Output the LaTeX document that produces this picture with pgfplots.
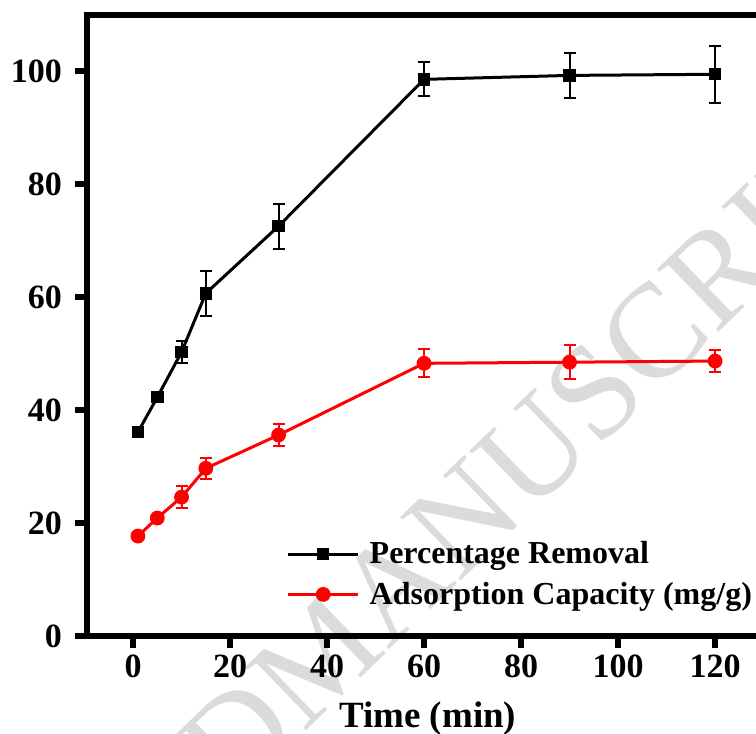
\documentclass[border=0pt]{standalone}
\usepackage{pgfplots}
\pgfplotsset{compat=1.18}
\usepackage{fontspec}
\setmainfont{Liberation Serif}
\pgfplotstableread{
x y e
1 36.1 0.6
5 42.3 0.6
10 50.3 1.9
15 60.7 4.0
30 72.6 4.0
60 98.6 3.0
90 99.3 4.0
120 99.5 5.0
}\removal
\pgfplotstableread{
x y e
1 17.7 0.6
5 20.9 0.5
10 24.6 1.9
15 29.7 1.9
30 35.6 2.0
60 48.3 2.5
90 48.5 3.0
120 48.7 2.0
}\capacity
\begin{document}
\begin{tikzpicture}
\useasboundingbox (-43.5pt,-49pt) rectangle (334.5pt,318pt);
\node[rotate=44, anchor=base west, text=black!14, font=\fontsize{67}{67}\selectfont, inner sep=0pt] at (108pt,-49pt) {MANUSCRIPT};
\node[rotate=44, anchor=base east, text=black!14, font=\fontsize{67}{67}\selectfont, inner sep=0pt] at (108pt,-49pt) {ACCEPTED\hspace{0.25em}};
\begin{axis}[
  at={(0pt,0pt)}, anchor=south west,
  scale only axis, width=340.7pt, height=310.5pt,
  xmin=-9.5, xmax=131, ymin=0, ymax=110,
  xtick={0,20,...,120}, ytick={0,20,...,100},
  minor tick num=0,
  tick pos=left, tick align=outside,
  axis line style={line width=3pt},
  major tick length=6pt,
  every tick/.append style={line width=3pt, black},
  ticklabel style={font=\bfseries\fontsize{17}{17}\selectfont},
  yticklabel style={xshift=-3pt},
  /pgf/number format/assume math mode=true,
  xlabel={Time (min)},
  xlabel style={font=\bfseries\fontsize{18.5}{18.5}\selectfont, yshift=-5pt},
  legend cell align=left,
  legend style={draw=none, fill=none, at={(axis cs:31.6,17.5)}, anchor=north west,
    font=\bfseries\fontsize{16}{16}\selectfont, row sep=3.5pt, column sep=3pt, inner sep=0pt},
  legend image code/.code={\draw[mark repeat=2,mark phase=2,#1] plot coordinates {(0pt,0pt) (17.5pt,0pt) (35pt,0pt)};},
]
\addplot[black, line width=1.5pt, mark=square*, mark size=2.8pt, mark options={line width=0.6pt},
  error bars/.cd, y dir=both, y explicit,
  error bar style={line width=1pt},
  error mark options={rotate=90, mark size=3pt, line width=1pt}]
  table[x=x, y=y, y error=e] {\removal};
\addlegendentry{Percentage Removal}
\addplot[red, line width=1.5pt, mark=*, mark size=3.4pt, mark options={line width=0.6pt},
  error bars/.cd, y dir=both, y explicit,
  error bar style={line width=1pt},
  error mark options={rotate=90, mark size=3pt, line width=1pt}]
  table[x=x, y=y, y error=e] {\capacity};
\addlegendentry{Adsorption Capacity (mg/g)}
\end{axis}
\end{tikzpicture}
\end{document}
